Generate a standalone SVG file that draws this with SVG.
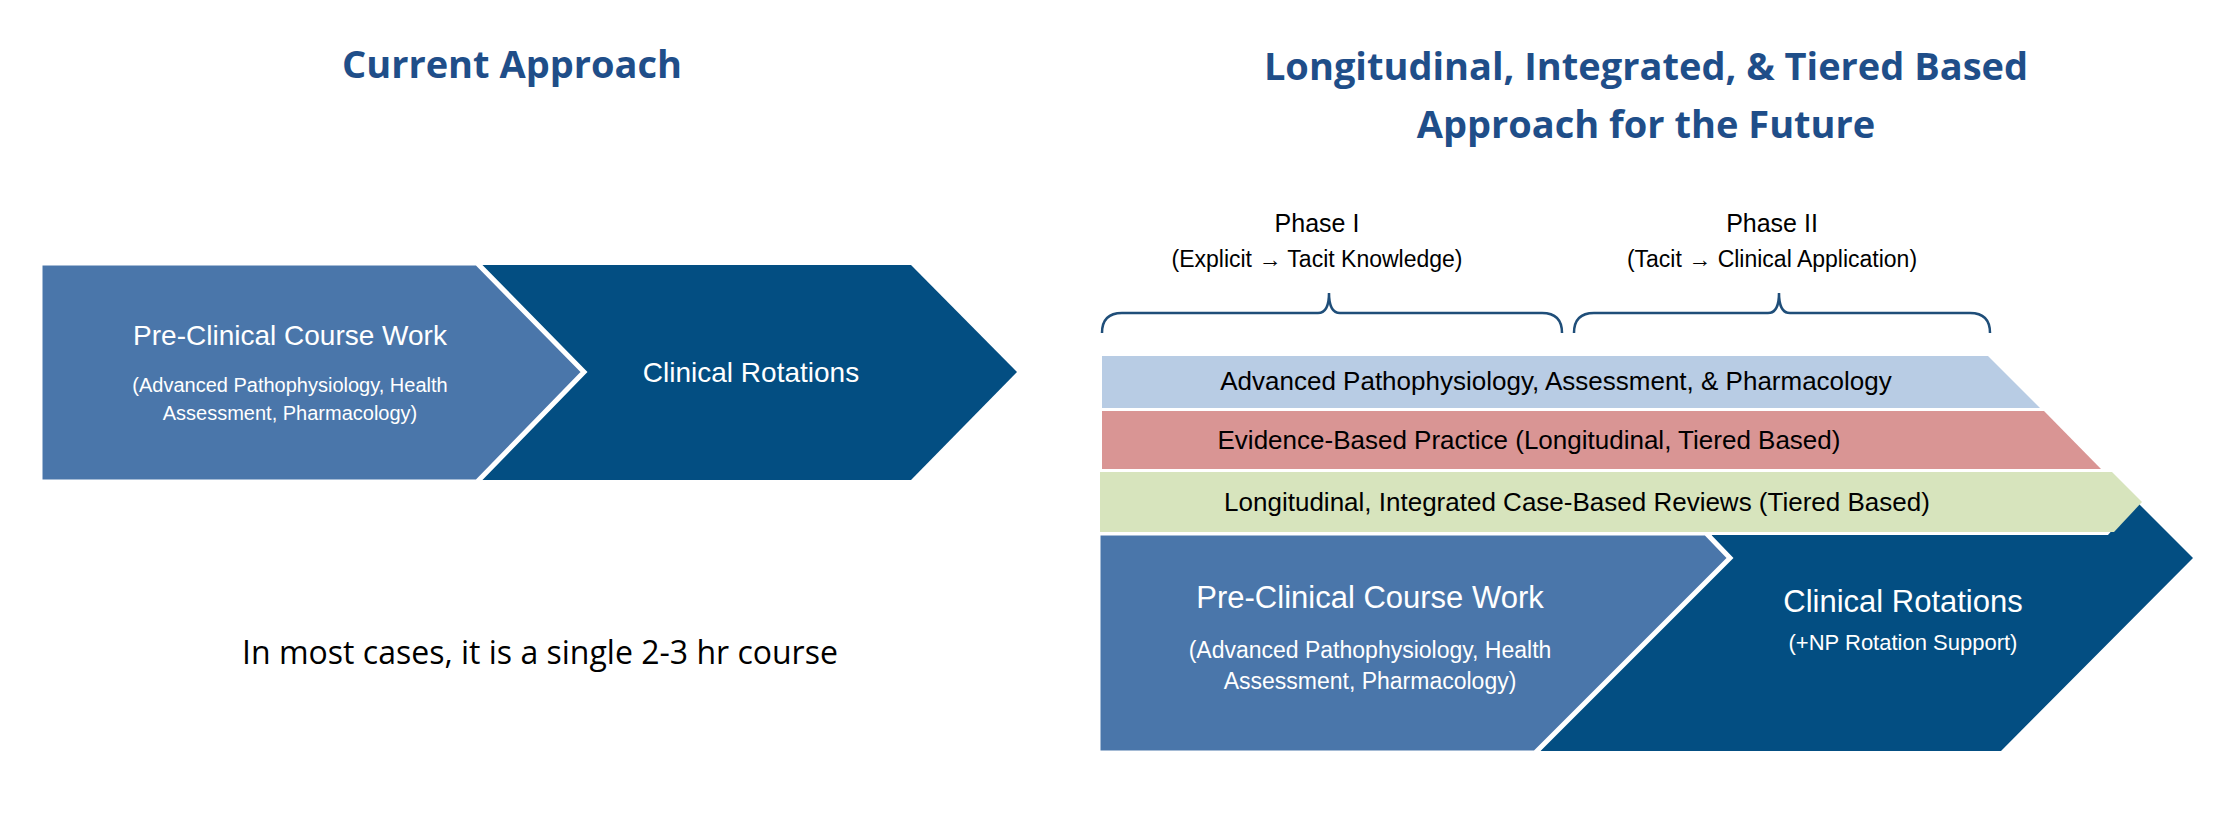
<svg xmlns="http://www.w3.org/2000/svg" width="2240" height="829" viewBox="0 0 2240 829">
<style>
.t{font-family:"Open Sans","Liberation Sans",sans-serif;font-weight:bold;fill:#1f4e89;font-size:38px;text-anchor:middle}
.w{font-family:"Liberation Sans",Arial,sans-serif;fill:#fff;text-anchor:middle}
.k{font-family:"Liberation Sans",Arial,sans-serif;fill:#000;text-anchor:middle}
.br{fill:none;stroke:#1f4e79;stroke-width:2.5}
.lb{fill:#4a76aa;stroke:#fff;stroke-width:5;stroke-linejoin:miter}
.db{fill:#034e82}
</style>
<rect width="2240" height="829" fill="#fff"/>
<text class="t" x="512" y="78">Current Approach</text>
<text class="t" x="1646" y="80">Longitudinal, Integrated, &amp; Tiered Based</text>
<text class="t" x="1646" y="138">Approach for the Future</text>
<g id="left-clinical"><polygon class="db" points="470,265 911,265 1017,372 911,480 470,480"/>
<text class="w" x="751" y="382" font-size="28">Clinical Rotations</text></g>
<g id="left-preclinical"><polygon class="lb" points="40,263 477,263 584,372 477,482 40,482"/>
<text class="w" x="290" y="345" font-size="28">Pre-Clinical Course Work</text>
<text class="w" x="290" y="392" font-size="20">(Advanced Pathophysiology, Health</text>
<text class="w" x="290" y="420" font-size="20">Assessment, Pharmacology)</text></g>
<text class="k" x="540" y="664" font-size="32" style="font-family:'Open Sans',sans-serif">In most cases, it is a single 2-3 hr course</text>
<g id="phase1"><text class="k" x="1317" y="232" font-size="25">Phase I</text>
<text class="k" x="1317" y="267" font-size="23">(Explicit → Tacit Knowledge)</text>
<path class="br" d="M1102,333 Q1102,313 1122,313 L1318,313 Q1329,313 1329,293 Q1329,313 1340,313 L1542,313 Q1562,313 1562,333"/></g>
<g id="phase2"><text class="k" x="1772" y="232" font-size="25">Phase II</text>
<text class="k" x="1772" y="267" font-size="23">(Tacit → Clinical Application)</text>
<path class="br" d="M1574,333 Q1574,313 1594,313 L1768,313 Q1779,313 1779,293 Q1779,313 1790,313 L1970,313 Q1990,313 1990,333"/></g>
<g id="clinical"><polygon class="db" points="1712,535 2108,535 2137,502 2193,558 2001,751 1540,751"/>
<text class="w" x="1903" y="612" font-size="31">Clinical Rotations</text>
<text class="w" x="1903" y="650" font-size="22">(+NP Rotation Support)</text></g>
<g id="preclinical"><polygon class="lb" points="1098,533 1706,533 1730,558 1535,753 1098,753"/>
<text class="w" x="1370" y="608" font-size="31">Pre-Clinical Course Work</text>
<text class="w" x="1370" y="658" font-size="23">(Advanced Pathophysiology, Health</text>
<text class="w" x="1370" y="689" font-size="23">Assessment, Pharmacology)</text></g>
<g id="band1"><polygon fill="#b8cce4" points="1102,356 1988,356 2040,408 1102,408"/>
<text class="k" x="1556" y="390" font-size="26">Advanced Pathophysiology, Assessment, &amp; Pharmacology</text></g>
<g id="band2"><polygon fill="#d99594" points="1102,411 2044,411 2101,469 1102,469"/>
<text class="k" x="1529" y="449" font-size="26">Evidence-Based Practice (Longitudinal, Tiered Based)</text></g>
<g id="band3"><polygon fill="#d7e4bd" points="1100,472 2112,472 2142,502 2114,532 1100,532"/>
<text class="k" x="1577" y="511" font-size="26">Longitudinal, Integrated Case-Based Reviews (Tiered Based)</text></g>
<g id="connectors"></g>
</svg>
